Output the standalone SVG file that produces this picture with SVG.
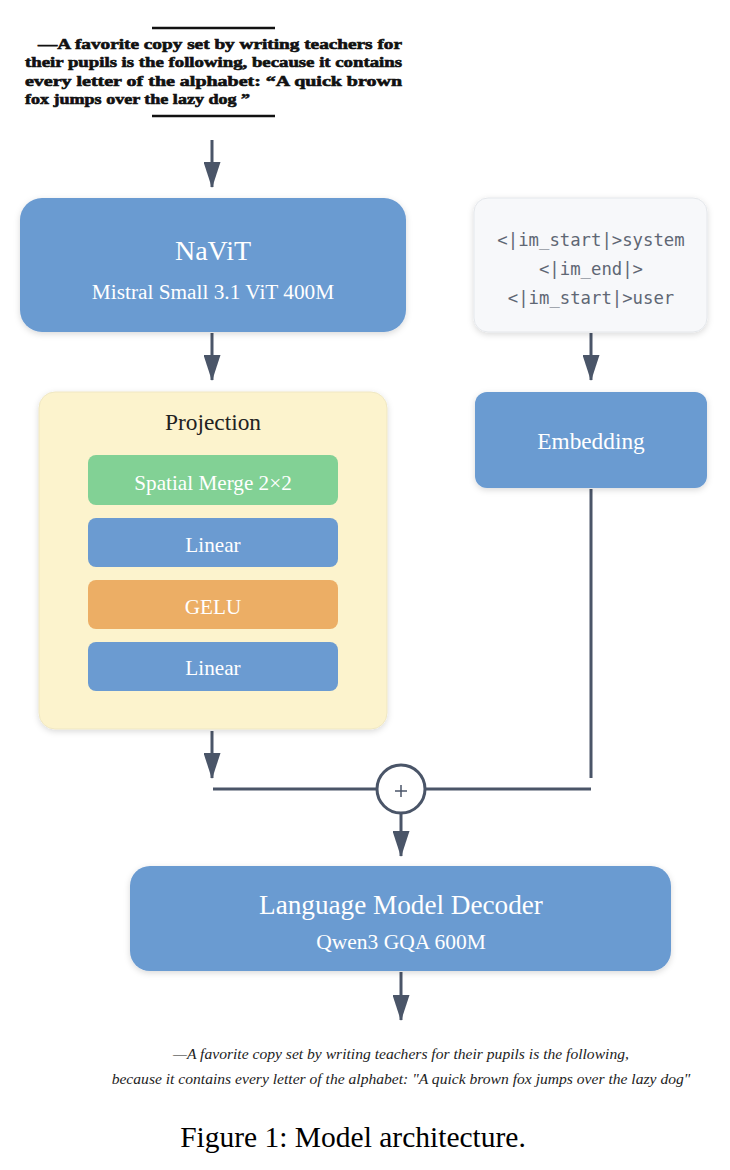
<svg xmlns="http://www.w3.org/2000/svg" width="730" height="1170" viewBox="0 0 730 1170">
<style>
.conn{stroke:#4a5568;stroke-width:3;fill:none}
.blue{fill:#6b9bd1}
.wt{fill:#ffffff;font-family:"Liberation Serif",serif;text-anchor:middle}
.scan{font-family:"Liberation Serif",serif;font-weight:bold;font-size:14.5px;fill:#111;stroke:#111;stroke-width:0.6}
.mono{font-family:"DejaVu Sans Mono","Liberation Mono",monospace;font-size:17.3px;fill:#5f6774;text-anchor:middle}
.cap{font-family:"Liberation Serif",serif;font-style:italic;font-size:15.6px;fill:#222;text-anchor:middle}
</style>
<defs>
<marker id="ah" markerWidth="26" markerHeight="17" refX="25" refY="8.5" orient="auto" markerUnits="userSpaceOnUse" viewBox="0 0 26 17">
<path d="M0,0 L26,8.5 L0,17 Z" fill="#4a5568"/>
</marker>
<filter id="sh" x="-10%" y="-10%" width="120%" height="130%">
<feDropShadow dx="0" dy="2" stdDeviation="3" flood-color="#000" flood-opacity="0.15"/>
</filter>
</defs>
<rect width="730" height="1170" fill="#ffffff"/>

<g id="scan-input">
<line x1="152" y1="28" x2="275" y2="28" stroke="#111" stroke-width="2.5"/>
<text class="scan" x="38" y="49" textLength="364" lengthAdjust="spacingAndGlyphs">—A favorite copy set by writing teachers for</text>
<text class="scan" x="25" y="67" textLength="377" lengthAdjust="spacingAndGlyphs">their pupils is the following, because it contains</text>
<text class="scan" x="25" y="86" textLength="377" lengthAdjust="spacingAndGlyphs">every letter of the alphabet: “A quick brown</text>
<text class="scan" x="25" y="104" textLength="225" lengthAdjust="spacingAndGlyphs">fox jumps over the lazy dog ”</text>
<line x1="152" y1="116" x2="275" y2="116" stroke="#111" stroke-width="2.5"/>
</g>

<g id="connectors">
<line class="conn" x1="212" y1="140" x2="212" y2="187" marker-end="url(#ah)"/>
<line class="conn" x1="212" y1="333" x2="212" y2="380" marker-end="url(#ah)"/>
<line class="conn" x1="591" y1="333" x2="591" y2="380" marker-end="url(#ah)"/>
<line class="conn" x1="212" y1="731" x2="212" y2="778" marker-end="url(#ah)"/>
<line class="conn" x1="591" y1="489" x2="591" y2="778"/>
<line class="conn" x1="213" y1="789" x2="377" y2="789"/>
<line class="conn" x1="425" y1="789" x2="591" y2="789"/>
<line class="conn" x1="401" y1="813" x2="401" y2="856" marker-end="url(#ah)"/>
<line class="conn" x1="401" y1="972" x2="401" y2="1020" marker-end="url(#ah)"/>
</g>

<g id="navit">
<rect x="20" y="198" width="386" height="134" rx="22" class="blue" filter="url(#sh)"/>
<text class="wt" x="213" y="260" font-size="28">NaViT</text>
<text class="wt" x="213" y="299" font-size="21.3">Mistral Small 3.1 ViT 400M</text>
</g>

<g id="tokens">
<rect x="474" y="198" width="233" height="134" rx="14" fill="#f7f8fa" stroke="#e4e7eb" stroke-width="1" filter="url(#sh)"/>
<text class="mono" x="591" y="246">&lt;|im_start|&gt;system</text>
<text class="mono" x="591" y="275">&lt;|im_end|&gt;</text>
<text class="mono" x="591" y="304">&lt;|im_start|&gt;user</text>
</g>

<g id="projection">
<rect x="39" y="392" width="348" height="337" rx="16" fill="#fcf3cd" stroke="#efe7c3" stroke-width="1" filter="url(#sh)"/>
<text x="213" y="430" font-family="Liberation Serif,serif" font-size="23.4" fill="#222" text-anchor="middle">Projection</text>
</g>
<g id="spatial-merge">
<rect x="88" y="455" width="250" height="50" rx="8" fill="#82d195"/>
<text class="wt" x="213" y="490" font-size="21.2">Spatial Merge 2×2</text>
</g>
<g id="linear1">
<rect x="88" y="518" width="250" height="49" rx="8" class="blue"/>
<text class="wt" x="213" y="552" font-size="21.2">Linear</text>
</g>
<g id="gelu">
<rect x="88" y="580" width="250" height="49" rx="8" fill="#ecae65"/>
<text class="wt" x="213" y="614" font-size="21.2">GELU</text>
</g>
<g id="linear2">
<rect x="88" y="642" width="250" height="49" rx="8" class="blue"/>
<text class="wt" x="213" y="675" font-size="21.2">Linear</text>
</g>

<g id="embedding">
<rect x="475" y="392" width="232" height="96" rx="12" class="blue" filter="url(#sh)"/>
<text class="wt" x="591" y="449" font-size="23.3">Embedding</text>
</g>

<g id="add">
<circle cx="401" cy="789" r="24" fill="#ffffff" stroke="#4a5568" stroke-width="3"/>
<line x1="395" y1="791" x2="407" y2="791" stroke="#4a5568" stroke-width="1.5"/>
<line x1="401" y1="785" x2="401" y2="797" stroke="#4a5568" stroke-width="1.5"/>
</g>

<g id="decoder">
<rect x="130" y="866" width="541" height="105" rx="20" class="blue" filter="url(#sh)"/>
<text class="wt" x="401" y="914" font-size="27.2">Language Model Decoder</text>
<text class="wt" x="401" y="949" font-size="21.5">Qwen3 GQA 600M</text>
</g>

<g id="output-caption">
<text class="cap" x="401" y="1059">—A favorite copy set by writing teachers for their pupils is the following,</text>
<text class="cap" x="401" y="1084">because it contains every letter of the alphabet: "A quick brown fox jumps over the lazy dog"</text>
</g>

<text x="353" y="1147" font-family="Liberation Serif,serif" font-size="29.5" fill="#000" text-anchor="middle">Figure 1: Model architecture.</text>
</svg>
